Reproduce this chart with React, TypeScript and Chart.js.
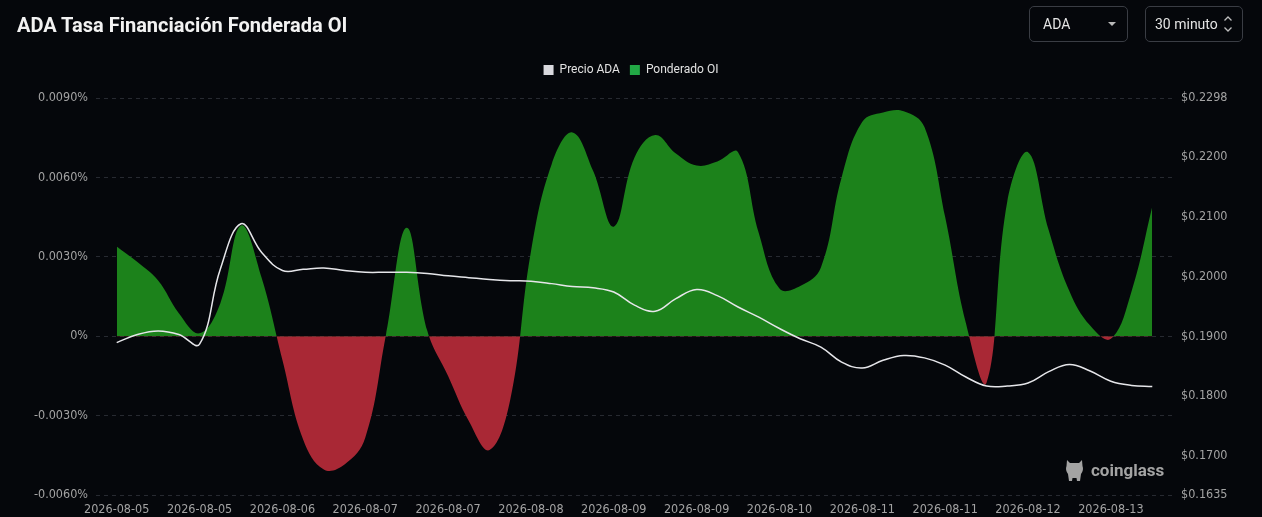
import React, { useEffect, useRef } from 'react';
import { Chart, registerables } from 'chart.js';

Chart.register(...registerables);

// 4-hour samples, 2026-08-05 00:00 .. 2026-08-13 08:00
const timeLabels = [
  '2026-08-05 00:00', '2026-08-05 04:00', '2026-08-05 08:00', '2026-08-05 12:00', '2026-08-05 16:00', '2026-08-05 20:00',
  '2026-08-06 00:00', '2026-08-06 04:00', '2026-08-06 08:00', '2026-08-06 12:00', '2026-08-06 16:00', '2026-08-06 20:00',
  '2026-08-07 00:00', '2026-08-07 04:00', '2026-08-07 08:00', '2026-08-07 12:00', '2026-08-07 16:00', '2026-08-07 20:00',
  '2026-08-08 00:00', '2026-08-08 04:00', '2026-08-08 08:00', '2026-08-08 12:00', '2026-08-08 16:00', '2026-08-08 20:00',
  '2026-08-09 00:00', '2026-08-09 04:00', '2026-08-09 08:00', '2026-08-09 12:00', '2026-08-09 16:00', '2026-08-09 20:00',
  '2026-08-10 00:00', '2026-08-10 04:00', '2026-08-10 08:00', '2026-08-10 12:00', '2026-08-10 16:00', '2026-08-10 20:00',
  '2026-08-11 00:00', '2026-08-11 04:00', '2026-08-11 08:00', '2026-08-11 12:00', '2026-08-11 16:00', '2026-08-11 20:00',
  '2026-08-12 00:00', '2026-08-12 04:00', '2026-08-12 08:00', '2026-08-12 12:00', '2026-08-12 16:00', '2026-08-12 20:00',
  '2026-08-13 00:00', '2026-08-13 04:00', '2026-08-13 08:00',
];

// Precio ADA (USD)
const priceValues = [
  0.18895, 0.1903, 0.1909, 0.1903, 0.1887, 0.2012, 0.2088, 0.204, 0.201, 0.2012,
  0.2014, 0.201, 0.2007, 0.2007, 0.2007, 0.2005, 0.2001, 0.1998, 0.1995, 0.1993,
  0.1992, 0.1988, 0.1983, 0.1981, 0.1974, 0.1952, 0.1942, 0.1963, 0.1978, 0.1968,
  0.1949, 0.1932, 0.1913, 0.1896, 0.1882, 0.1857, 0.1847, 0.186, 0.1868, 0.1864,
  0.1852, 0.1832, 0.1817, 0.1817, 0.1822, 0.1841, 0.1853, 0.1842, 0.1825, 0.1818,
  0.1816,
];

// Ponderado OI funding rate (%)
const fundingValues = [
  0.00339, 0.0028, 0.0021, 0.00087, 0.00011, 0.00124, 0.00418, 0.0022, -0.0009, -0.0039,
  -0.00504, -0.00485, -0.00384, 0.00005, 0.0041, 0.0002, -0.0015, -0.0032, -0.0043, -0.0024,
  0.0032, 0.0065, 0.0077, 0.00625, 0.00414, 0.00675, 0.0076, 0.0069, 0.00645, 0.0066,
  0.00695, 0.0039, 0.0018, 0.0019, 0.0026, 0.006, 0.0081, 0.00845, 0.0085, 0.0079,
  0.0045, 0.0005, -0.00175, 0.0051, 0.00695, 0.004, 0.0017, 0.0004, -0.0001, 0.0017,
  0.0049,
];

const fundingTicks = [-0.006, -0.003, 0, 0.003, 0.006, 0.009];
const priceTicks = [0.1635, 0.17, 0.18, 0.19, 0.2, 0.21, 0.22, 0.2298];

const seriesNames = ['Precio ADA', 'Ponderado OI'];

const AXIS_FONT = "'DejaVu Sans', sans-serif";
const AXIS_WEIGHT = 'normal condensed';
const AXIS_SIZE = 12.5;
const BG = '#05070b';

const legendSpacer = {
  id: 'legendSpacer',
  beforeInit(chart: any) {
    const legend = chart.legend;
    if (!legend) return;
    const orig = legend.fit;
    legend.fit = function () {
      orig.call(this);
      this.height += 12;
    };
  },
};

export default function App() {
  const canvasRef = useRef<HTMLCanvasElement | null>(null);

  useEffect(() => {
    document.body.style.margin = '0';
    document.body.style.background = BG;
    const canvas = canvasRef.current;
    if (!canvas) return;

    const axisFont: any = { family: AXIS_FONT, size: AXIS_SIZE, weight: AXIS_WEIGHT };
    const labels = ['', ...timeLabels, ''];
    const chart = new Chart(canvas, {
      type: 'line',
      data: {
        labels,
        datasets: [
          {
            label: seriesNames[0],
            data: [null, ...priceValues, null],
            yAxisID: 'y1',
            borderColor: '#e6e6ea',
            borderWidth: 1.5,
            pointRadius: 0,
            pointHoverRadius: 0,
            tension: 0.4,
            fill: false,
          },
          {
            label: seriesNames[1],
            data: [null, ...fundingValues, null],
            yAxisID: 'y',
            borderColor: 'rgba(0,0,0,0)',
            borderWidth: 0,
            pointRadius: 0,
            pointHoverRadius: 0,
            tension: 0.4,
            fill: { target: 'origin', above: '#1c821b', below: '#a92835' },
          },
        ],
      },
      options: {
        animation: false,
        responsive: true,
        maintainAspectRatio: false,
        layout: { padding: { top: 54, left: 0, right: 0, bottom: 0 } },
        plugins: {
          tooltip: { enabled: false },
          legend: {
            display: true,
            position: 'top',
            labels: {
              color: '#e2e2e2',
              font: { family: 'Roboto', size: 12 },
              boxWidth: 10,
              boxHeight: 10,
              padding: 10,
              generateLabels: (ch: any) => {
                const items = Chart.defaults.plugins.legend.labels.generateLabels(ch);
                const colors = ['#d9d9de', '#22a845'];
                return items.map((it: any, i: number) => ({
                  ...it,
                  fillStyle: colors[i],
                  strokeStyle: colors[i],
                  lineWidth: 0,
                  fontColor: '#e2e2e2',
                }));
              },
            },
          },
        },
        scales: {
          x: {
            type: 'category',
            offset: false,
            grid: { display: false, drawTicks: false },
            border: { display: false },
            afterFit: (s: any) => {
              s.height = 22;
            },
            ticks: {
              autoSkip: false,
              maxRotation: 0,
              minRotation: 0,
              padding: 7,
              color: '#a3a3a3',
              font: axisFont,
              callback: (_v: any, index: number) => {
                if (index === 0 || index === labels.length - 1) return '';
                return (index - 1) % 4 === 0 ? labels[index].slice(0, 10) : '';
              },
            },
          },
          y: {
            type: 'linear',
            position: 'left',
            min: -0.006,
            max: 0.009,
            afterBuildTicks: (s: any) => {
              s.ticks = fundingTicks.map((v) => ({ value: v }));
            },
            afterFit: (s: any) => {
              s.width = 96;
            },
            grid: { color: '#272a31', lineWidth: 1, drawTicks: false },
            border: { display: false, dash: [4, 4] },
            ticks: {
              padding: 8,
              color: '#a3a3a3',
              font: axisFont,
              callback: (v: any) => {
                const n = Number(v);
                if (Math.abs(n) < 1e-9) return '0%';
                return n.toFixed(4) + '%';
              },
            },
          },
          y1: {
            type: 'linear',
            position: 'right',
            min: 0.1635,
            max: 0.2298,
            afterBuildTicks: (s: any) => {
              s.ticks = priceTicks.map((v) => ({ value: v }));
            },
            afterFit: (s: any) => {
              s.width = 89;
            },
            grid: { display: false, drawTicks: false },
            border: { display: false },
            ticks: {
              padding: 8,
              color: '#a3a3a3',
              font: axisFont,
              callback: (v: any) => '$' + Number(v).toFixed(4),
            },
          },
        },
      },
      plugins: [legendSpacer],
    } as any);

    return () => {
      chart.destroy();
    };
  }, []);

  const boxStyle: React.CSSProperties = {
    position: 'absolute',
    top: 6,
    height: 36,
    boxSizing: 'border-box',
    border: '1px solid #3a3d44',
    borderRadius: 5,
    color: '#e4e4e4',
    fontFamily: 'Roboto, sans-serif',
    fontSize: 14,
    display: 'flex',
    alignItems: 'center',
  };

  return (
    <div
      style={{
        position: 'absolute',
        left: 0,
        top: 0,
        width: 1262,
        height: 517,
        background: BG,
        overflow: 'hidden',
      }}
    >
      <div style={{ position: 'absolute', left: 0, top: 0, width: 1262, height: 517 }}>
        <canvas ref={canvasRef} />
      </div>
      <div
        style={{
          position: 'absolute',
          left: 17,
          top: 15,
          lineHeight: '20px',
          fontFamily: 'Roboto, sans-serif',
          fontWeight: 700,
          fontSize: 20,
          color: '#f2f2f2',
          whiteSpace: 'nowrap',
        }}
      >
        ADA Tasa Financiación Fonderada OI
      </div>
      <div style={{ ...boxStyle, left: 1029, width: 99, paddingLeft: 13 }}>
        ADA
        <div
          style={{
            position: 'absolute',
            left: 78,
            top: 15,
            width: 0,
            height: 0,
            borderLeft: '4px solid transparent',
            borderRight: '4px solid transparent',
            borderTop: '4px solid #b8b8b8',
          }}
        />
      </div>
      <div style={{ ...boxStyle, left: 1145, width: 98, paddingLeft: 9 }}>
        30 minuto
        <svg
          width="10"
          height="18"
          style={{ position: 'absolute', left: 77, top: 8 }}
          viewBox="0 0 10 18"
        >
          <polyline points="1.5,5.5 5,2 8.5,5.5" fill="none" stroke="#bdbdbd" strokeWidth="1.3" />
          <polyline points="1.5,12.5 5,16 8.5,12.5" fill="none" stroke="#bdbdbd" strokeWidth="1.3" />
        </svg>
      </div>
      <div
        style={{
          position: 'absolute',
          left: 1063,
          top: 457,
          display: 'flex',
          alignItems: 'center',
          pointerEvents: 'none',
        }}
      >
        <svg width="23" height="26" viewBox="0 0 23 26">
          <path d="M4 3 L7 6 L16 6 L19 3 L19.5 9 Q21 13 18 17 L17 24 L14 24 L13.5 21 L9.5 21 L9 24 L6 24 L5 17 Q2 13 3.5 9 Z" fill="#a3a3a3" />
        </svg>
        <span
          style={{
            marginLeft: 5,
            fontFamily: 'Roboto, sans-serif',
            fontWeight: 700,
            fontSize: 17,
            color: '#a3a3a3',
            letterSpacing: 0,
          }}
        >
          coinglass
        </span>
      </div>
    </div>
  );
}
